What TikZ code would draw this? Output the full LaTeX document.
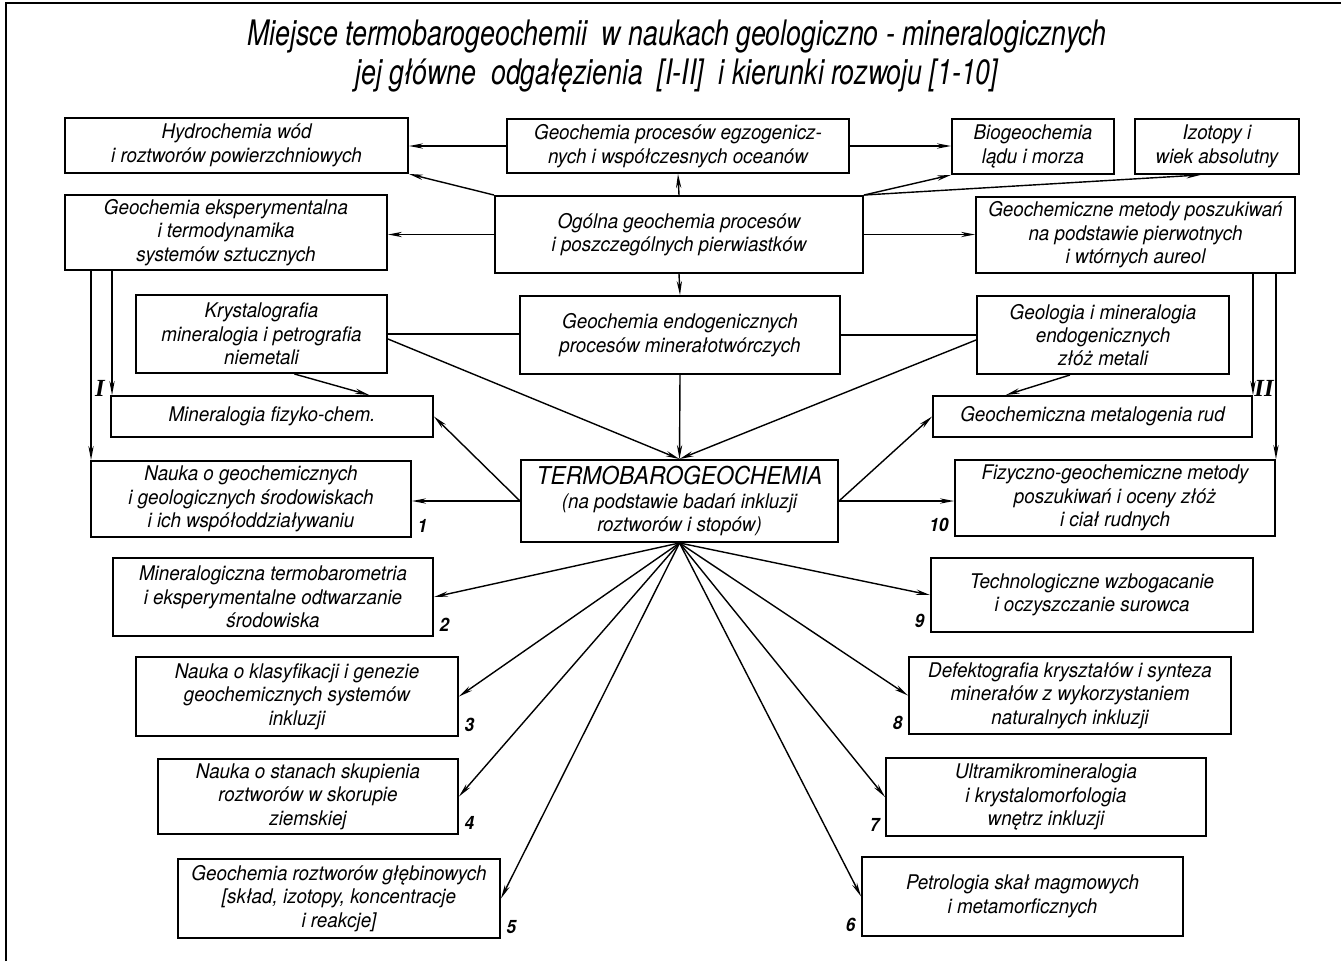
\documentclass[tikz,border=0pt]{standalone}
\usepackage{fontspec}
\setmainfont{TeX Gyre Heros}[FakeStretch=0.93]
\newfontfamily\titlefont{TeX Gyre Heros}[FakeStretch=0.76]
\newfontfamily\romanfont{Liberation Serif}
\usetikzlibrary{arrows.meta,calc}

\begin{document}
\begin{tikzpicture}[x=0.02cm,y=-0.02cm,
  box/.style={draw,line width=1.1pt,align=center,inner sep=1pt,font=\itshape\fontsize{11.5}{13.3}\selectfont},
  wh/.style 2 args={minimum width=#1*0.02cm,minimum height=#2*0.02cm},
  arr/.style={line width=0.8pt,-{Stealth[length=8pt,width=3pt]}},
  ln/.style={line width=0.8pt},
  num/.style={font=\bfseries\itshape\fontsize{10.5}{12}\selectfont,inner sep=3pt},
  ttl/.style={font=\titlefont\itshape\fontsize{20}{22}\selectfont,inner sep=0pt}]
\useasboundingbox (0,0) rectangle (1341,961);
\draw[line width=1.5pt] (6,961) -- (6,3) -- (1341,3);

\node[ttl] (title1) at (677,37) {Miejsce termobarogeochemii \ w naukach geologiczno - mineralogicznych};
\node[ttl] (title2) at (677,76) {jej główne \ odgałęzienia \ [I-II] \ i kierunki rozwoju [1-10]};

\node[box,wh={343}{55}] (hydro) at (236.5,145.5) {Hydrochemia wód\\ i roztworów powierzchniowych};
\node[box,wh={342}{54}] (egzo) at (678,146) {Geochemia procesów egzogenicz-\\nych i współczesnych oceanów};
\node[box,wh={162}{55}] (bio) at (1033,146.5) {Biogeochemia\\lądu i morza};
\node[box,wh={164}{55}] (izo) at (1217,146.5) {Izotopy i\\wiek absolutny};
\node[box,wh={322}{75}] (geoexp) at (226,232.5) {Geochemia eksperymentalna\\i termodynamika\\systemów sztucznych};
\node[box,wh={368}{77}] (ogolna) at (679,234.5) {Ogólna geochemia procesów\\i poszczególnych pierwiastków};
\node[box,wh={319}{76}] (geomet) at (1135.5,235) {Geochemiczne metody poszukiwań\\na podstawie pierwotnych\\i wtórnych aureol};
\node[box,wh={251}{78}] (kryst) at (261.5,334) {Krystalografia\\mineralogia i petrografia\\niemetali};
\node[box,wh={320}{78}] (endo) at (680,335) {Geochemia endogenicznych\\procesów minerałotwórczych};
\node[box,wh={252}{78}] (geolmin) at (1103,335) {Geologia i mineralogia\\endogenicznych\\złóż metali};
\node[box,wh={322}{41}] (minfiz) at (272,416.5) {Mineralogia fizyko-chem.};
\node[box,wh={319}{41}] (geometal) at (1092.5,416.5) {Geochemiczna metalogenia rud};
\node[box,wh={317}{82}] (termo) at (679.5,501) {{\fontsize{14}{16}\selectfont TERMOBAROGEOCHEMIA}\\(na podstawie badań inkluzji\\roztworów i stopów)};
\node[box,wh={320}{76}] (b1) at (251,499) {Nauka o geochemicznych\\i geologicznych środowiskach\\i ich współoddziaływaniu};
\node[box,wh={320}{76}] (b10) at (1115,498) {Fizyczno-geochemiczne metody\\poszukiwań i oceny złóż\\i ciał rudnych};
\node[box,wh={320}{78}] (b2) at (273,597) {Mineralogiczna termobarometria\\i eksperymentalne odtwarzanie\\środowiska};
\node[box,wh={322}{74}] (b9) at (1092,595) {Technologiczne wzbogacanie\\i oczyszczanie surowca};
\node[box,wh={322}{79}] (b3) at (297,696.5) {Nauka o klasyfikacji i genezie\\geochemicznych systemów\\inkluzji};
\node[box,wh={322}{77}] (b8) at (1070,695.5) {Defektografia kryształów i synteza\\minerałów z wykorzystaniem\\naturalnych inkluzji};
\node[box,wh={300}{75}] (b4) at (308,796.5) {Nauka o stanach skupienia\\roztworów w skorupie\\ziemskiej};
\node[box,wh={320}{78}] (b7) at (1046,797) {Ultramikromineralogia\\i krystalomorfologia\\wnętrz inkluzji};
\node[box,wh={322}{79}] (b5) at (339,898.5) {Geochemia roztworów głębinowych\\{[}skład, izotopy, koncentracje\\i reakcje{]}};
\node[box,wh={321}{79}] (b6) at (1022.5,896.5) {Petrologia skał magmowych\\i metamorficznych};

\node[num,anchor=south west] (n1) at (b1.south east) {1};
\node[num,anchor=south west] (n2) at (b2.south east) {2};
\node[num,anchor=south west] (n3) at (b3.south east) {3};
\node[num,anchor=south west] (n4) at (b4.south east) {4};
\node[num,anchor=south west] (n5) at (b5.south east) {5};
\node[num,anchor=south east] (n6) at (b6.south west) {6};
\node[num,anchor=south east] (n7) at (b7.south west) {7};
\node[num,anchor=south east] (n8) at (b8.south west) {8};
\node[num,anchor=south east] (n9) at (b9.south west) {9};
\node[num,anchor=south east] (n10) at (b10.south west) {10};
\node[font=\romanfont\bfseries\itshape\fontsize{14}{16}\selectfont] (rI) at (100,388) {I};
\node[font=\romanfont\bfseries\itshape\fontsize{14}{16}\selectfont] (rII) at (1264,388) {II};

\draw[arr] (egzo.west) -- (egzo.west -| hydro.east);
\draw[arr] (ogolna.north west) -- (hydro.south east);
\draw[arr] (egzo.east) -- (egzo.east -| bio.west);
\draw[arr] (ogolna.north east) -- (bio.south west);
\draw[arr] (ogolna.north east) -- ($(izo.south west)!0.4!(izo.south east)$);
\draw[arr] (ogolna.north) -- (egzo.south);
\draw[arr] (ogolna.west) -- (ogolna.west -| geoexp.east);
\draw[arr] (ogolna.east) -- (ogolna.east -| geomet.west);
\draw[arr] (ogolna.south) -- (endo.north);
\draw[arr] (endo.south) -- (termo.north);
\draw[ln] (kryst.east) -- (kryst.east -| endo.west);
\draw[ln] (endo.east) -- (endo.east -| geolmin.west);
\draw[arr] ($(kryst.east)+(0,5)$) -- (termo.north);
\draw[arr] ($(geolmin.west)+(0,5)$) -- (termo.north);
\draw[arr] ($(kryst.south west)!0.63!(kryst.south east)$) -- ($(minfiz.north west)!0.8!(minfiz.north east)$);
\draw[arr] ($(geolmin.south west)!0.37!(geolmin.south east)$) -- ($(geometal.north west)!0.23!(geometal.north east)$);
\draw[arr] (termo.west) -- (minfiz.east);
\draw[arr] (termo.west) -- (termo.west -| b1.east);
\draw[arr] (termo.east) -- (geometal.west);
\draw[arr] (termo.east) -- (termo.east -| b10.west);

\coordinate (i1) at ($(b1.north west)+(1,0)$);
\coordinate (i2) at ($(minfiz.north west)+(2,0)$);
\draw[arr] (geoexp.south -| i1) -- (i1);
\draw[arr] (geoexp.south -| i2) -- (i2);
\draw[arr] (geomet.south -| geometal.north east) -- (geometal.north east);
\draw[arr] (geomet.south -| b10.north east) -- (b10.north east);

\draw[arr] (termo.south) -- (b2.east);
\draw[arr] (termo.south) -- (b3.east);
\draw[arr] (termo.south) -- (b4.east);
\draw[arr] (termo.south) -- (b5.east);
\draw[arr] (termo.south) -- (b6.west);
\draw[arr] (termo.south) -- (b7.west);
\draw[arr] (termo.south) -- (b8.west);
\draw[arr] (termo.south) -- (b9.west);
\end{tikzpicture}
\end{document}
